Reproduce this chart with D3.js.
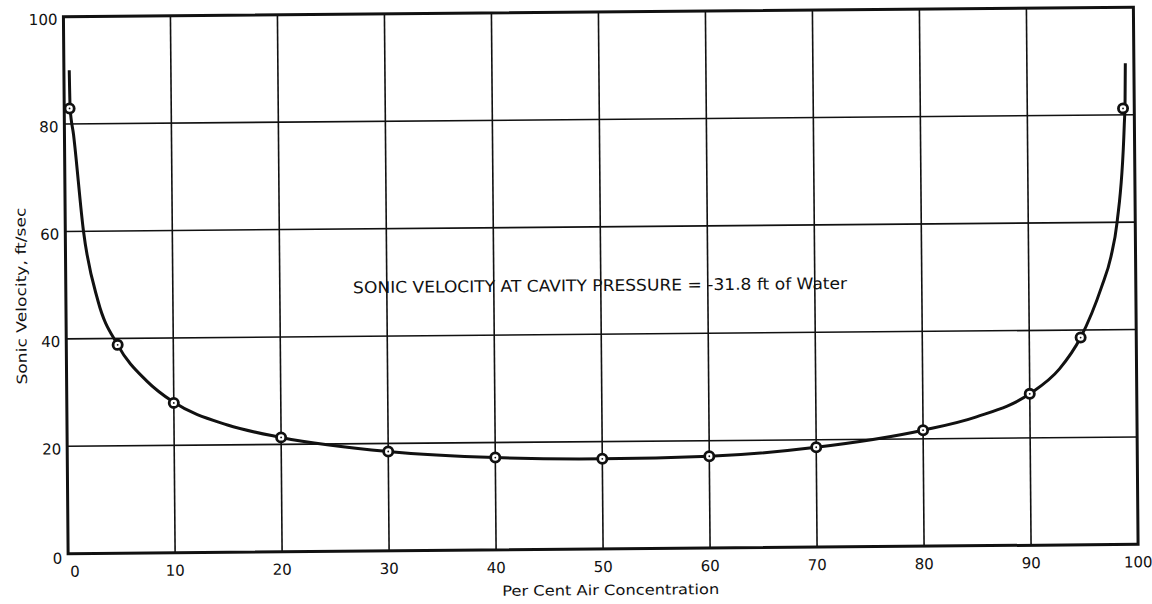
<!DOCTYPE html>
<html>
<head>
    <title>Sonic Velocity vs Air Concentration</title>
    <style>
        html, body {
            margin: 0;
            padding: 0;
            background: #fff;
        }
        .axis-label {
            font-family: "DejaVu Sans", sans-serif;
            fill: #111;
        }
        .tick-label {
            font-family: "DejaVu Sans", sans-serif;
            font-size: 15px;
            fill: #111;
        }
    </style>
    <script src="https://d3js.org/d3.v7.min.js"></script>
</head>
<body>
    <svg id="chart"></svg>
</body>
<script>
    // measured points (per cent air, ft/sec)
    const pointX = [0.5, 4.8, 10, 20, 30, 40, 50, 60, 70, 80, 90, 94.8, 98.95];
    const pointY = [82.9, 38.8, 27.9, 21.3, 18.5, 17.2, 16.8, 17.1, 18.6, 21.6, 28.2, 38.6, 81.2];

    // faired curve
    const curveX = [0.5, 0.55, 0.85, 1.7, 3, 4.8, 7.5, 10, 15, 20, 30, 40, 50, 60, 70, 80, 85, 90, 92.8, 94.8, 96.8, 97.7, 98.3, 99.05, 99.15, 99.2];
    const curveY = [90, 83, 78, 60, 47, 38.8, 32, 28, 23.7, 21.3, 18.5, 17.2, 16.8, 17.1, 18.6, 21.6, 24.0, 28.2, 32.8, 38.6, 48, 53.6, 60, 78, 83, 89.6];

    const xTicks = [0, 10, 20, 30, 40, 50, 60, 70, 80, 90, 100];
    const yTicks = [0, 20, 40, 60, 80, 100];

    const W = 1152, H = 604;
    const plotL = 65.75, plotR = 1135.75, plotT = 12, plotB = 549;
    const cx = (plotL + plotR) / 2, cy = (plotT + plotB) / 2;

    const svgRoot = d3.select("#chart").attr("width", W).attr("height", H);
    // the original scan sits slightly tilted
    const svg = svgRoot.append("g")
        .attr("transform", "rotate(-0.5," + cx + "," + cy + ")");

    const x = d3.scaleLinear().domain([0, 100]).range([plotL, plotR]);
    const y = d3.scaleLinear().domain([0, 100]).range([plotB, plotT]);

    // grid
    svg.selectAll(".vgrid")
        .data(xTicks.slice(1, -1))
        .enter().append("line")
        .attr("x1", d => x(d)).attr("x2", d => x(d))
        .attr("y1", plotT).attr("y2", plotB)
        .attr("stroke", "#111").attr("stroke-width", 1.6);
    svg.selectAll(".hgrid")
        .data(yTicks.slice(1, -1))
        .enter().append("line")
        .attr("x1", plotL).attr("x2", plotR)
        .attr("y1", d => y(d)).attr("y2", d => y(d))
        .attr("stroke", "#111").attr("stroke-width", 1.6);

    // frame
    svg.append("rect")
        .attr("x", plotL).attr("y", plotT)
        .attr("width", plotR - plotL).attr("height", plotB - plotT)
        .attr("fill", "none").attr("stroke", "#111").attr("stroke-width", 3);

    // tick labels
    svg.selectAll(".xlab")
        .data(xTicks)
        .enter().append("text")
        .attr("class", "tick-label")
        .attr("x", d => d === 0 ? x(d) + 2 : x(d))
        .attr("y", plotB + 23)
        .attr("text-anchor", d => d === 0 ? "start" : "middle")
        .text(d => d);
    svg.selectAll(".ylab")
        .data(yTicks)
        .enter().append("text")
        .attr("class", "tick-label")
        .attr("x", plotL - 6)
        .attr("y", d => y(d) + (d === 0 ? 10 : 8))
        .attr("text-anchor", "end")
        .text(d => d);

    // curve
    const line = d3.line()
        .x(i => x(curveX[i]))
        .y(i => y(curveY[i]))
        .curve(d3.curveMonotoneX);
    svg.append("path")
        .datum(d3.range(curveX.length))
        .attr("d", line)
        .attr("fill", "none")
        .attr("stroke", "#111")
        .attr("stroke-width", 3);

    // points
    svg.selectAll(".dot")
        .data(d3.range(pointX.length))
        .enter().append("circle")
        .attr("cx", i => x(pointX[i]))
        .attr("cy", i => y(pointY[i]))
        .attr("r", 4.6)
        .attr("fill", "#fff")
        .attr("stroke", "#111")
        .attr("stroke-width", 2.8);
    svg.selectAll(".pip")
        .data(d3.range(pointX.length))
        .enter().append("circle")
        .attr("cx", i => x(pointX[i]))
        .attr("cy", i => y(pointY[i]))
        .attr("r", 0.9)
        .attr("fill", "#111");

    // annotation
    svg.append("text")
        .attr("class", "axis-label")
        .attr("x", 353)
        .attr("y", 291)
        .attr("font-size", "16px")
        .attr("textLength", 494)
        .attr("lengthAdjust", "spacingAndGlyphs")
        .text("SONIC VELOCITY AT CAVITY PRESSURE = -31.8 ft of Water");

    // axis titles
    svg.append("text")
        .attr("class", "axis-label")
        .attr("font-size", "14px")
        .attr("text-anchor", "middle")
        .attr("transform", "translate(26,291) rotate(-90)")
        .attr("textLength", 177)
        .attr("lengthAdjust", "spacingAndGlyphs")
        .text("Sonic Velocity,  ft/sec");
    svg.append("text")
        .attr("class", "axis-label")
        .attr("font-size", "14px")
        .attr("text-anchor", "middle")
        .attr("x", 608)
        .attr("y", 595)
        .attr("textLength", 217)
        .attr("lengthAdjust", "spacingAndGlyphs")
        .text("Per Cent Air Concentration");
</script>
</html>
